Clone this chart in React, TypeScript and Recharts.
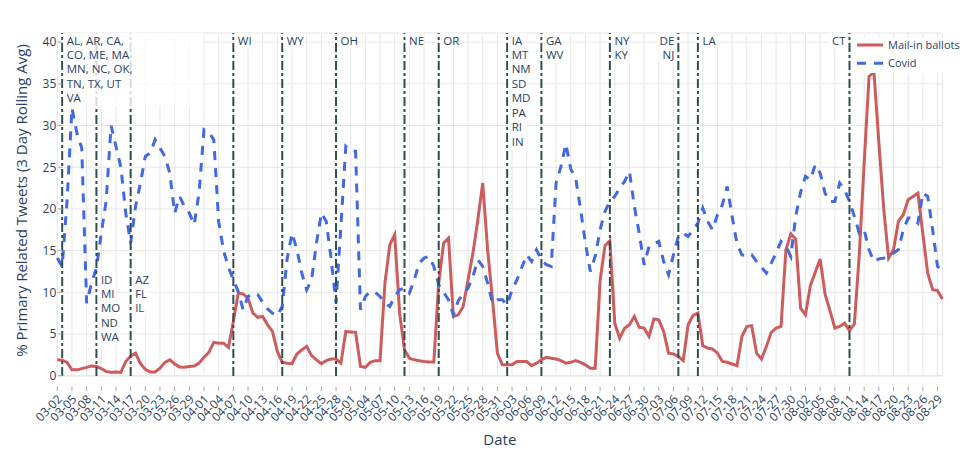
import React from 'react';
import { LineChart, Line, XAxis, YAxis, CartesianGrid, ReferenceLine } from 'recharts';

const START = { y: 2020, m: 3, d: 2 };

const mailInBallots = [
  1.9, 1.85, 1.6, 0.7, 0.7, 0.85, 1.0, 1.15, 1.1, 0.85,
  0.5, 0.4, 0.45, 0.4, 1.7, 2.35, 2.7, 1.45, 0.75, 0.45,
  0.45, 0.9, 1.6, 1.9, 1.4, 1.05, 1.0, 1.1, 1.15, 1.5,
  2.2, 2.8, 4.0, 3.9, 3.9, 3.4, 6.5, 9.9, 9.8, 9.3,
  7.5, 7.0, 7.1, 6.1, 5.3, 2.9, 1.6, 1.5, 1.45, 2.6,
  3.1, 3.5, 2.4, 1.9, 1.45, 1.8, 2.0, 2.0, 1.5, 5.3,
  5.25, 5.2, 1.1, 1.0, 1.6, 1.8, 1.8, 11.1, 15.7, 16.9,
  7.5, 3.1, 2.1, 1.9, 1.8, 1.7, 1.65, 1.65, 11.1, 15.9,
  16.5, 7.1, 7.3, 8.3, 11.5, 14.7, 18.7, 23.1, 15.1, 9.1,
  2.7, 1.3, 1.3, 1.3, 1.7, 1.7, 1.7, 1.2, 1.5, 1.9,
  2.2, 2.1, 2.0, 1.8, 1.5, 1.6, 1.8, 1.6, 1.3, 0.9,
  0.9, 11.4, 15.6, 16.2, 6.3, 4.5, 5.7, 6.1, 7.1, 5.8,
  5.7, 4.7, 6.8, 6.7, 5.3, 2.7, 2.6, 2.3, 1.8, 6.1,
  7.2, 7.5, 3.6, 3.3, 3.2, 2.7, 1.7, 1.6, 1.4, 1.2,
  4.7, 5.9, 6.0, 2.7, 2.0, 3.5, 5.2, 5.7, 5.9, 15.1,
  17.0, 16.4, 8.1, 7.3, 10.8, 12.4, 14.0, 9.8, 7.8, 5.7,
  5.9, 6.3, 5.4, 6.2, 14.5, 25.5, 35.9, 36.4, 28.0, 20.0,
  14.1, 15.1, 18.5, 19.3, 21.1, 21.5, 21.9, 17.0, 12.3, 10.3,
  10.2, 9.2,
];

const covid = [
  14.1, 13.1, 21.0, 32.1, 29.1, 27.3, 8.7, 11.1, 12.9, 17.1,
  21.0, 30.0, 27.5, 25.0, 19.5, 15.9, 20.3, 23.1, 26.3, 26.7,
  28.3, 27.3, 26.3, 24.3, 19.5, 21.5, 20.3, 19.5, 18.1, 22.0,
  29.5, 29.2, 28.3, 18.5, 15.0, 13.0, 11.5, 10.1, 7.9, 9.5,
  9.9, 9.7, 8.8, 8.0, 7.5, 7.2, 8.3, 14.0, 17.1, 15.1,
  12.3, 10.3, 11.5, 15.9, 19.5, 18.5, 14.0, 8.7, 18.0, 27.5,
  27.0, 26.9, 7.9, 9.5, 10.1, 10.0, 9.5, 8.7, 8.3, 9.5,
  10.3, 10.5, 9.9, 11.5, 13.5, 14.1, 14.3, 13.1, 10.9, 10.0,
  9.1, 7.3, 9.0, 9.8, 10.5, 11.9, 13.9, 13.1, 11.1, 8.7,
  9.1, 9.1, 8.5, 10.3, 11.5, 13.0, 14.5, 13.7, 15.1, 13.9,
  13.3, 13.1, 23.1, 25.1, 27.8, 24.8, 23.7, 20.0, 15.9, 12.5,
  14.3, 17.5, 19.7, 20.9, 21.5, 22.5, 23.3, 24.5, 20.3, 17.1,
  13.3, 15.5, 15.8, 16.1, 13.7, 12.1, 14.5, 16.7, 17.1, 16.7,
  17.5, 18.3, 20.1, 18.5, 17.5, 19.3, 20.5, 22.7, 19.1, 15.8,
  14.5, 14.3, 14.5, 13.7, 13.0, 12.3, 13.5, 14.7, 16.1, 15.5,
  14.3, 19.1, 22.0, 23.9, 23.5, 25.3, 24.3, 21.9, 20.9, 20.9,
  23.1, 22.3, 20.9, 19.1, 17.1, 17.5, 15.1, 13.7, 14.0, 14.1,
  14.3, 14.7, 15.1, 17.5, 18.9, 18.9, 18.3, 21.9, 21.5, 17.5,
  13.1, 12.7,
];

const yTicks = [0, 5, 10, 15, 20, 25, 30, 35, 40];

const primaries = [
  { date: '03-03', states: ['AL, AR, CA,', 'CO, ME, MA', 'MN, NC, OK,', 'TN, TX, UT', 'VA'], band: 'top', side: 'right', boxWidth: 140 },
  { date: '03-10', states: ['ID', 'MI', 'MO', 'ND', 'WA'], band: 'mid', side: 'right' },
  { date: '03-17', states: ['AZ', 'FL', 'IL'], band: 'mid', side: 'right' },
  { date: '04-07', states: ['WI'], band: 'top', side: 'right' },
  { date: '04-17', states: ['WY'], band: 'top', side: 'right' },
  { date: '04-28', states: ['OH'], band: 'top', side: 'right' },
  { date: '05-12', states: ['NE'], band: 'top', side: 'right' },
  { date: '05-19', states: ['OR'], band: 'top', side: 'right' },
  { date: '06-02', states: ['IA', 'MT', 'NM', 'SD', 'MD', 'PA', 'RI', 'IN'], band: 'top', side: 'right' },
  { date: '06-09', states: ['GA', 'WV'], band: 'top', side: 'right' },
  { date: '06-23', states: ['NY', 'KY'], band: 'top', side: 'right' },
  { date: '07-07', states: ['DE', 'NJ'], band: 'top', side: 'left' },
  { date: '07-11', states: ['LA'], band: 'top', side: 'right' },
  { date: '08-11', states: ['CT'], band: 'top', side: 'left' },
];

const pad = (n: number) => (n < 10 ? '0' + n : '' + n);
const startMs = Date.UTC(START.y, START.m - 1, START.d);
const DAY = 86400000;
const dates = mailInBallots.map((_, i) => {
  const dt = new Date(startMs + i * DAY);
  return pad(dt.getUTCMonth() + 1) + '-' + pad(dt.getUTCDate());
});
const dateIndex = (md: string) => dates.indexOf(md);

const data = dates.map((date, i) => ({ i, date, mail: mailInBallots[i], covid: covid[i] }));
const xTicks = dates.map((_, i) => i).filter((i) => i % 3 === 0);

const FONT = '"Open Sans", "Noto Sans", sans-serif';
const TEXT = '#2a3f5f';
const RED = '#cd5c5c';
const BLUE = '#4169e1';
const VLINE = '#2f4f4f';
const GRID = '#e6e6e6';
const TICK = '#a8a8a8';

const XTick = (props: any) => {
  const { x, y, payload } = props;
  const label = dates[payload.value];
  const ax = x + 5.5;
  const ay = y + 24;
  return (
    <g>
      <line x1={x} x2={x} y1={y + 10.5} y2={y + 15} stroke={TICK} strokeWidth={1} />
      <text x={ax} y={ay} textAnchor="end" transform={`rotate(-45 ${ax} ${ay})`} fill={TEXT} fontSize={12} fontFamily={FONT}>
        {label}
      </text>
    </g>
  );
};

const YTick = (props: any) => {
  const { x, y, payload } = props;
  return (
    <g>
      <line x1={x + 0.8} x2={x + 5} y1={y} y2={y} stroke={TICK} strokeWidth={1} />
      <text x={x - 1} y={y} dy={4.3} textAnchor="end" fill={TEXT} fontSize={12} fontFamily={FONT}>
        {payload.value}
      </text>
    </g>
  );
};

const makeStateLabel = (p: any) => (props: any) => {
  const vb = props.viewBox;
  if (!vb) return null;
  const lx = vb.x;
  const top = vb.y;
  const lh = 14.45;
  const base = p.band === 'mid' ? top + 250.5 : top + 11.5;
  const left = p.side === 'left';
  const tx = left ? lx - 4 : lx + 4.5;
  const maxLen = Math.max(...p.states.map((s: string) => s.length));
  const w = p.boxWidth ?? maxLen * 7.8 + 3;
  const rx = left ? tx - w + 1.5 : lx + 1.2;
  const ry = base - 11.5;
  const rh = (p.states.length - 1) * lh + 15.5;
  return (
    <g>
      <rect x={rx} y={ry} width={w} height={rh} fill="#ffffff" fillOpacity={0.8} />
      <text x={tx} y={base} textAnchor={left ? 'end' : 'start'} fill={TEXT} fontSize={11.5} fontFamily={FONT}>
        {p.states.map((s: string, k: number) => (
          <tspan key={k} x={tx} y={base + k * lh}>
            {s}
          </tspan>
        ))}
      </text>
    </g>
  );
};

const YTitle = (props: any) => {
  const vb = props.viewBox || { y: 33, height: 343 };
  const cx = 27;
  const cy = vb.y + vb.height / 2 - 4;
  return (
    <text x={cx} y={cy} transform={`rotate(-90 ${cx} ${cy})`} textAnchor="middle" fill={TEXT} fontSize={15} fontFamily={FONT}>
      % Primary Related Tweets (3 Day Rolling Avg)
    </text>
  );
};

const XTitle = (props: any) => {
  const vb = props.viewBox || { x: 57.3, width: 885 };
  return (
    <text x={vb.x + vb.width / 2} y={445} textAnchor="middle" fill={TEXT} fontSize={15} fontFamily={FONT}>
      Date
    </text>
  );
};

const LegendBox = () => (
  <div style={{ position: 'absolute', left: 852, top: 37, width: 115, height: 36, background: '#ffffff' }}>
    <svg width={115} height={36} style={{ display: 'block' }}>
      <line x1={5} x2={31} y1={8} y2={8} stroke={RED} strokeWidth={3} />
      <text x={36} y={12} fill={TEXT} fontSize={11} fontFamily={FONT}>Mail-in ballots</text>
      <line x1={5} x2={31} y1={26.3} y2={26.3} stroke={BLUE} strokeWidth={3} strokeDasharray="9 8" />
      <text x={36} y={30.3} fill={TEXT} fontSize={11} fontFamily={FONT}>Covid</text>
    </svg>
  </div>
);

export default function App() {
  return (
    <div style={{ position: 'absolute', left: 0, top: 0, width: 967, height: 449, background: '#ffffff' }}>
      <LineChart width={967} height={449} data={data} margin={{ top: 33, right: 24.6, bottom: 0, left: 0 }}>
        <CartesianGrid stroke={GRID} strokeWidth={1} />
        <XAxis
          type="number"
          dataKey="i"
          domain={[0, 181]}
          ticks={xTicks}
          interval={0}
          axisLine={false}
          tickLine={false}
          tickSize={0}
          tickMargin={0}
          height={73}
          tick={<XTick />}
          label={{ content: (p: any) => <XTitle {...p} /> }}
        />
        <YAxis
          type="number"
          domain={[-0.04, 41.1]}
          allowDataOverflow
          ticks={yTicks}
          interval={0}
          axisLine={false}
          tickLine={false}
          tickSize={0}
          tickMargin={0}
          width={57.3}
          tick={<YTick />}
          label={{ content: (p: any) => <YTitle {...p} /> }}
        />
        <Line type="linear" dataKey="mail" name="Mail-in ballots" stroke={RED} strokeWidth={3} dot={false} activeDot={false} isAnimationActive={false} />
        <Line type="linear" dataKey="covid" name="Covid" stroke={BLUE} strokeWidth={3} strokeDasharray="9 8" dot={false} activeDot={false} isAnimationActive={false} />
        {primaries.map((p) => (
          <ReferenceLine
            key={'line-' + p.date}
            x={dateIndex(p.date)}
            stroke={VLINE}
            strokeWidth={2}
            strokeDasharray="9 3 3 3"
          />
        ))}
        {primaries.map((p) => (
          <ReferenceLine
            key={'label-' + p.date}
            x={dateIndex(p.date)}
            stroke="none"
            strokeWidth={0}
            label={makeStateLabel(p)}
          />
        ))}
      </LineChart>
      <LegendBox />
    </div>
  );
}
